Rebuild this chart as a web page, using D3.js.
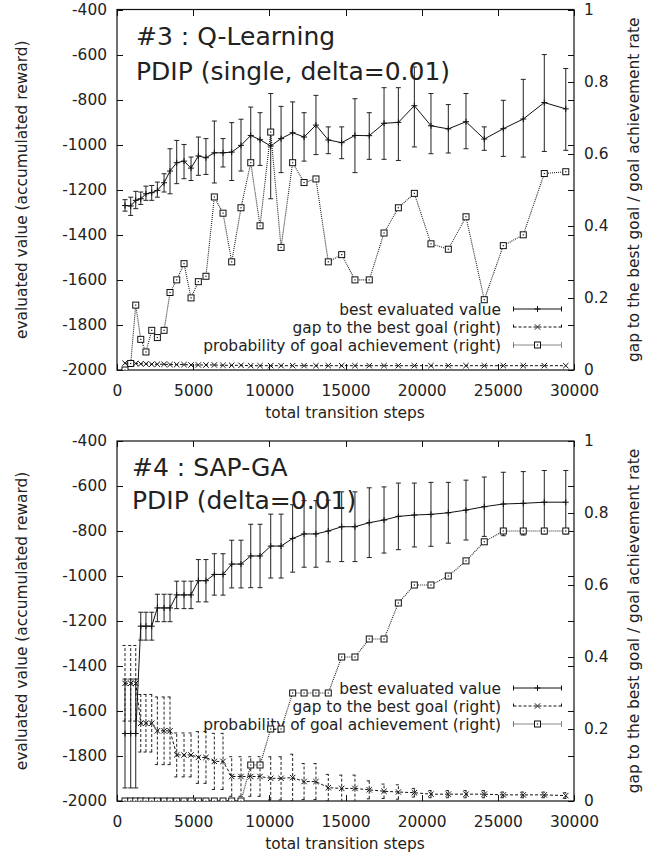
<!DOCTYPE html>
<html>
<head>
<meta charset="utf-8">
<script src="https://cdn.jsdelivr.net/npm/d3@7"></script>
<style>
body { margin: 0; background: #fff; }
</style>
</head>
<body>
<div id="chart"></div>
<script>
// sampling points (total transition steps), same for both runs
const steps = [525, 900, 1230, 1560, 1900, 2280, 2650, 3090, 3480, 3920,
  4400, 4860, 5340, 5840, 6390, 6960, 7530, 8140, 8780, 9390,
  10090, 10770, 11530, 12280, 13060, 13870, 14750, 15620, 16560, 17530,
  18470, 19520, 20610, 21750, 22910, 24110, 25360, 26670, 28050, 29460];

// #3 Q-Learning
const qBest = [-1270, -1272, -1247, -1240, -1218, -1213, -1203, -1169, -1117, -1080,
  -1073, -1104, -1050, -1058, -1036, -1036, -1033, -1003, -959, -978,
  -1006, -973, -947, -966, -913, -979, -991, -959, -960, -905,
  -901, -827, -916, -930, -898, -975, -929, -886, -813, -841];
const qLow = [-1295, -1314, -1284, -1265, -1247, -1247, -1233, -1210, -1218, -1173,
  -1151, -1159, -1136, -1132, -1170, -1099, -1159, -1117, -1084, -1092,
  -1240, -1124, -1084, -1073, -1044, -1040, -1062, -1124, -1065, -1065,
  -1070, -1010, -1040, -1037, -1018, -1025, -1052, -1055, -1030, -1025];
const qHigh = [-1244, -1233, -1207, -1210, -1184, -1181, -1166, -1129, -1018, -981,
  -999, -1055, -966, -973, -895, -973, -902, -887, -833, -858,
  -773, -830, -810, -858, -781, -921, -921, -796, -858, -747,
  -747, -655, -773, -822, -773, -921, -803, -710, -600, -662];
const qGap = [0.019, 0.019, 0.018, 0.017, 0.017, 0.016, 0.016, 0.016, 0.015, 0.015,
  0.015, 0.014, 0.014, 0.014, 0.014, 0.013, 0.013, 0.013, 0.012, 0.012,
  0.012, 0.012, 0.012, 0.012, 0.012, 0.012, 0.012, 0.012, 0.012, 0.012,
  0.012, 0.012, 0.012, 0.012, 0.012, 0.012, 0.012, 0.012, 0.012, 0.012];
const qProb = [0, 0.018, 0.18, 0.085, 0.05, 0.11, 0.09, 0.11, 0.215, 0.25,
  0.295, 0.2, 0.245, 0.26, 0.48, 0.435, 0.3, 0.45, 0.575, 0.4,
  0.66, 0.34, 0.575, 0.52, 0.53, 0.3, 0.32, 0.25, 0.25, 0.38,
  0.45, 0.49, 0.35, 0.335, 0.425, 0.195, 0.345, 0.375, 0.545, 0.55];

// #4 SAP-GA
const gBest = [-1700, -1700, -1700, -1223, -1223, -1223, -1142, -1142, -1142, -1084,
  -1084, -1084, -1021, -1021, -993, -993, -947, -947, -911, -911,
  -867, -867, -833, -813, -813, -800, -781, -781, -763, -751,
  -735, -729, -726, -719, -707, -692, -680, -677, -672, -672];
const gBestErr = [242, 242, 242, 62, 62, 62, 61, 61, 61, 61,
  61, 61, 94, 94, 92, 92, 106, 106, 141, 141,
  142, 142, 150, 148, 148, 137, 155, 155, 155, 147,
  148, 142, 142, 135, 133, 132, 141, 141, 141, 141];
const gGap = [0.327, 0.327, 0.327, 0.216, 0.216, 0.216, 0.195, 0.195, 0.195, 0.128,
  0.128, 0.128, 0.121, 0.121, 0.11, 0.11, 0.068, 0.068, 0.068, 0.068,
  0.063, 0.063, 0.065, 0.054, 0.054, 0.037, 0.035, 0.035, 0.031, 0.027,
  0.025, 0.023, 0.019, 0.019, 0.019, 0.019, 0.017, 0.017, 0.017, 0.015];
const gGapErr = [0.105, 0.105, 0.105, 0.08, 0.08, 0.08, 0.094, 0.094, 0.094, 0.061,
  0.061, 0.061, 0.072, 0.072, 0.078, 0.078, 0.055, 0.055, 0.055, 0.055,
  0.06, 0.06, 0.065, 0.05, 0.05, 0.037, 0.037, 0.037, 0.025, 0.02,
  0.02, 0.012, 0.01, 0.01, 0.01, 0.01, 0.008, 0.008, 0.008, 0.008];
const gProb = [0, 0, 0, 0, 0, 0, 0, 0, 0, 0,
  0, 0, 0, 0, 0, 0, 0, 0, 0.1, 0.1,
  0.2, 0.2, 0.3, 0.3, 0.3, 0.3, 0.4, 0.4, 0.45, 0.45,
  0.55, 0.6, 0.6, 0.625, 0.667, 0.72, 0.75, 0.75, 0.75, 0.75];

const xTicks = [0, 5000, 10000, 15000, 20000, 25000, 30000];
const yTicks = [-2000, -1800, -1600, -1400, -1200, -1000, -800, -600, -400];
const y2Ticks = [0, 0.2, 0.4, 0.6, 0.8, 1];
const legendLabels = ["best evaluated value", "gap to the best goal (right)", "probability of goal achievement (right)"];

const width = 663, height = 861;
const left = 117, right = 574;
const FONT = "DejaVu Sans, Verdana, sans-serif";
const INK = "#111";

const svg = d3.select("#chart").append("svg")
    .attr("width", width)
    .attr("height", height);

const x = d3.scaleLinear().domain([0, 30000]).range([left, right]);

function styleAxis(g) {
    g.attr("font-family", FONT).attr("font-size", 15.4);
    g.select(".domain").remove();
    g.selectAll(".tick line").attr("stroke", INK).attr("shape-rendering", "crispEdges");
    g.selectAll(".tick text").attr("fill", "#222");
}

function plusPath(px, py) { return `M${px - 3},${py}h6M${px},${py - 3}v6`; }
function crossPath(px, py) { return `M${px - 2.7},${py - 2.7}l5.4,5.4M${px - 2.7},${py + 2.7}l5.4,-5.4`; }

function drawPanel(cfg) {
    const y = d3.scaleLinear().domain([-2000, -400]).range([cfg.bottom, cfg.top]);
    const y2 = d3.scaleLinear().domain([0, 1]).range([cfg.bottom, cfg.top]);
    const g = svg.append("g");

    svg.append("clipPath").attr("id", "clip" + cfg.id)
      .append("rect")
        .attr("x", left).attr("y", cfg.top)
        .attr("width", right - left).attr("height", cfg.bottom - cfg.top);

    // axes, ticks point inward
    g.append("g").attr("transform", `translate(${left},0)`)
        .call(d3.axisLeft(y).tickValues(yTicks).tickSizeInner(-6).tickSizeOuter(0).tickPadding(10).tickFormat(d => String(d)))
        .call(styleAxis);
    g.append("g").attr("transform", `translate(${right},0)`)
        .call(d3.axisRight(y).tickValues(yTicks).tickSizeInner(-6).tickSizeOuter(0).tickFormat(""))
        .call(styleAxis);
    g.append("g").attr("transform", `translate(${right},0)`)
        .call(d3.axisRight(y2).tickValues(y2Ticks).tickSizeInner(-6).tickSizeOuter(0).tickPadding(10).tickFormat(d => String(d)))
        .call(styleAxis);
    g.append("g").attr("transform", `translate(0,${cfg.bottom})`)
        .call(d3.axisBottom(x).tickValues(xTicks).tickSizeInner(-6).tickSizeOuter(0).tickPadding(15).tickFormat(d => String(d)))
        .call(styleAxis);
    g.append("g").attr("transform", `translate(0,${cfg.top})`)
        .call(d3.axisTop(x).tickValues(xTicks).tickSizeInner(-6).tickSizeOuter(0).tickFormat(""))
        .call(styleAxis);

    g.append("rect")
        .attr("x", left).attr("y", cfg.top)
        .attr("width", right - left).attr("height", cfg.bottom - cfg.top)
        .attr("fill", "none").attr("stroke", INK).attr("stroke-width", 1.2);

    // axis titles
    g.append("text")
        .attr("transform", `translate(27,${(cfg.top + cfg.bottom) / 2}) rotate(-90)`)
        .attr("text-anchor", "middle").attr("font-family", FONT).attr("font-size", 15.4).attr("fill", "#222")
        .text("evaluated value (accumulated reward)");
    g.append("text")
        .attr("transform", `translate(639,${(cfg.top + cfg.bottom) / 2}) rotate(-90)`)
        .attr("text-anchor", "middle").attr("font-family", FONT).attr("font-size", 15.4).attr("fill", "#222")
        .text("gap to the best goal / goal achievement rate");
    g.append("text")
        .attr("x", (left + right) / 2 - 0.5).attr("y", cfg.bottom + 48)
        .attr("text-anchor", "middle").attr("font-family", FONT).attr("font-size", 15.4).attr("fill", "#222")
        .text("total transition steps");

    // title
    cfg.title.forEach((t, i) => {
        g.append("text")
            .attr("x", cfg.titleX).attr("y", cfg.titleY[i])
            .attr("font-family", FONT).attr("font-size", 25).attr("fill", "#222")
            .text(t);
    });

    // key
    const styles = [
        { dash: null, mark: "plus" },
        { dash: "3,2", mark: "cross" },
        { dash: "1,1", mark: "square" }
    ];
    const key = g.append("g");
    legendLabels.forEach((lab, i) => {
        const ky = cfg.keyY + i * 18;
        key.append("text")
            .attr("x", 501).attr("y", ky).attr("dy", "0.36em")
            .attr("text-anchor", "end").attr("font-family", FONT).attr("font-size", 15.4).attr("fill", "#222")
            .text(lab);
        key.append("path")
            .attr("d", `M513.5,${ky}H561.5M513.5,${ky - 2.5}v5M561.5,${ky - 2.5}v5`)
            .attr("fill", "none").attr("stroke", INK).attr("stroke-width", 1)
            .attr("stroke-dasharray", i === 0 ? null : styles[i].dash);
        drawMark(key, styles[i].mark, 537.5, ky);
    });

    const pts = steps.map((s, i) => ({
        px: x(s),
        best: y(cfg.best[i]), lo: y(cfg.bestLow[i]), hi: y(cfg.bestHigh[i]),
        gap: y2(cfg.gap[i]),
        gapLo: cfg.gapErr ? y2(cfg.gap[i] - cfg.gapErr[i]) : null,
        gapHi: cfg.gapErr ? y2(cfg.gap[i] + cfg.gapErr[i]) : null,
        prob: y2(cfg.prob[i])
    }));

    const data = g.append("g").attr("clip-path", `url(#clip${cfg.id})`);

    // best evaluated value
    data.append("path")
        .attr("d", d3.line().x(d => d.px).y(d => d.best)(pts))
        .attr("fill", "none").attr("stroke", INK).attr("stroke-width", 1);
    data.selectAll(".ebar").data(pts).enter().append("path")
        .attr("d", d => `M${d.px},${d.lo}V${d.hi}M${d.px - 2.5},${d.lo}h5M${d.px - 2.5},${d.hi}h5`)
        .attr("fill", "none").attr("stroke", "#222").attr("stroke-width", 1);
    pts.forEach(d => drawMark(data, "plus", d.px, d.best));

    // gap to the best goal
    data.append("path")
        .attr("d", d3.line().x(d => d.px).y(d => d.gap)(pts))
        .attr("fill", "none").attr("stroke", INK).attr("stroke-width", 1).attr("stroke-dasharray", "3,2");
    if (cfg.gapErr) {
        data.selectAll(".gbar").data(pts).enter().append("path")
            .attr("d", d => `M${d.px},${d.gapLo}V${d.gapHi}M${d.px - 2.5},${d.gapLo}h5M${d.px - 2.5},${d.gapHi}h5`)
            .attr("fill", "none").attr("stroke", "#222").attr("stroke-width", 1).attr("stroke-dasharray", "3,2");
    }
    pts.forEach(d => drawMark(data, "cross", d.px, d.gap));

    // probability of goal achievement
    data.append("path")
        .attr("d", d3.line().x(d => d.px).y(d => d.prob)(pts))
        .attr("fill", "none").attr("stroke", "#222").attr("stroke-width", 1.1).attr("stroke-dasharray", "1,1");
    pts.forEach(d => drawMark(data, "square", d.px, d.prob));
}

function drawMark(sel, type, px, py) {
    if (type === "plus") {
        sel.append("path").attr("d", plusPath(px, py))
            .attr("fill", "none").attr("stroke", INK).attr("stroke-width", 1);
    } else if (type === "cross") {
        sel.append("path").attr("d", crossPath(px, py))
            .attr("fill", "none").attr("stroke", INK).attr("stroke-width", 1);
    } else {
        sel.append("rect").attr("x", px - 3).attr("y", py - 3).attr("width", 6).attr("height", 6)
            .attr("fill", "#fff").attr("stroke", INK).attr("stroke-width", 1);
        sel.append("rect").attr("x", px - 0.6).attr("y", py - 0.6).attr("width", 1.2).attr("height", 1.2)
            .attr("fill", INK);
    }
}

drawPanel({
    id: 1, top: 9.5, bottom: 370,
    title: ["#3 : Q-Learning", "PDIP (single, delta=0.01)"], titleX: 136, titleY: [45, 80],
    keyY: 309,
    best: qBest, bestLow: qLow, bestHigh: qHigh,
    gap: qGap, gapErr: null, prob: qProb
});

drawPanel({
    id: 2, top: 441, bottom: 801,
    title: ["#4 : SAP-GA", "PDIP (delta=0.01)"], titleX: 132, titleY: [476, 509],
    keyY: 688,
    best: gBest,
    bestLow: gBest.map((v, i) => v - gBestErr[i]),
    bestHigh: gBest.map((v, i) => v + gBestErr[i]),
    gap: gGap, gapErr: gGapErr, prob: gProb
});
</script>
</body>
</html>
